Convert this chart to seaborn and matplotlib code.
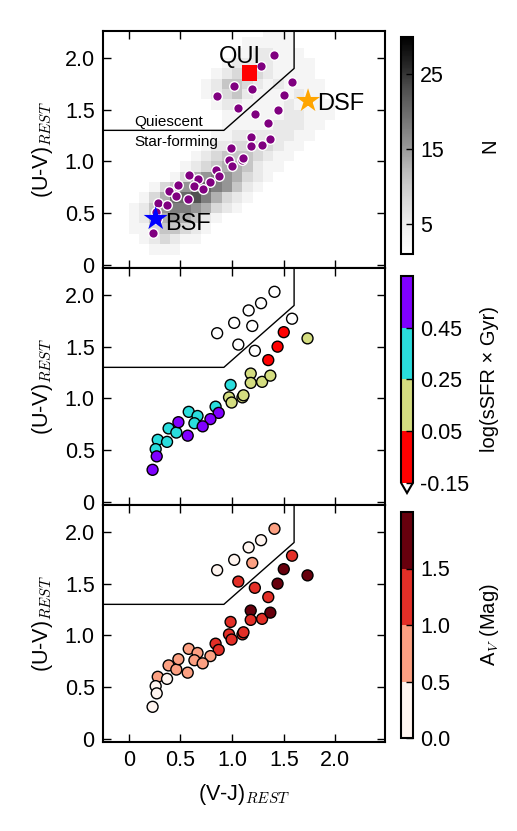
import numpy as np
import pandas as pd
import matplotlib
matplotlib.use("Agg")
import matplotlib.pyplot as plt
import matplotlib.colors as mcolors
import matplotlib.cm as cm
import seaborn as sns

# rest-frame colours of the galaxies
vj = [1.41, 1.28, 1.16, 1.02, 1.195, 0.855, 1.06, 1.22, 1.58,
      1.50, 1.44, 1.35,
      1.73, 1.18, 1.18, 1.29, 1.37, 0.97, 0.995, 1.10, 1.11,
      0.985, 0.84, 0.58, 0.665, 0.635, 0.385, 0.46, 0.28, 0.37, 0.26,
      0.87, 0.79, 0.715, 0.48, 0.57, 0.27, 0.23]
uv = [2.03, 1.92, 1.85, 1.73, 1.70, 1.63, 1.52, 1.46, 1.77,
      1.64, 1.50, 1.37,
      1.58, 1.24, 1.15, 1.16, 1.22, 1.01, 0.96, 1.01, 1.03,
      1.13, 0.92, 0.87, 0.83, 0.76, 0.71, 0.67, 0.60, 0.58, 0.51,
      0.86, 0.80, 0.73, 0.77, 0.64, 0.44, 0.31]
ssfr = [-0.42, -0.55, -0.38, -0.61, -0.33, -0.70, -0.29, -0.24, -0.35,
        -0.02, -0.08, -0.11,
        0.12, 0.09, 0.17, 0.14, 0.07, 0.21, 0.19, 0.11, 0.16,
        0.31, 0.28, 0.36, 0.33, 0.41, 0.38, 0.27, 0.35, 0.43, 0.30,
        0.52, 0.48, 0.57, 0.50, 0.61, 0.55, 0.63]
av = [0.7, 0.3, 0.4, 0.2, 0.8, 0.3, 1.2, 1.1, 1.3,
      1.7, 1.6, 1.2,
      1.8, 1.6, 1.2, 1.3, 1.7, 1.1, 1.2, 1.3, 1.2,
      1.1, 1.2, 0.8, 0.7, 0.6, 0.8, 0.7, 0.6, 0.4, 0.3,
      1.1, 0.9, 0.7, 0.6, 0.8, 0.2, 0.1]

# UVJ selection box
box_vj = [-0.3, 0.92, 1.6, 1.6]
box_uv = [1.3, 1.3, 1.898, 2.4]

# stacked spectra
stack_names = ["QUI", "BSF", "DSF"]
stack_vj = [1.168, 0.26, 1.735]
stack_uv = [1.852, 0.445, 1.585]
stack_label_vj = [0.87, 0.35, 1.825]
stack_label_uv = [1.95, 0.34, 1.50]

# parent sample density, 0.1 mag bins (digit x 2.5 = N), rows from top (U-V=2.25) down
dens_vj = [-0.05 + 0.1 * i for i in range(21)]
dens_uv = [2.25 - 0.1 * j for j in range(22)]
dens_rows = [
    "000000000000001110000",
    "000000000000111110000",
    "000000000001122111000",
    "000000000012222111100",
    "000000000123332111100",
    "000000001244321211110",
    "000000001234211112110",
    "000000000122111121111",
    "000000000011111122111",
    "000000000011111222110",
    "000000000112222221100",
    "000000001223333211000",
    "000000012344432110000",
    "000000123455421100000",
    "000001356765321000000",
    "000134678764210000000",
    "001358897532100000000",
    "012467765321000000000",
    "012456542100000000000",
    "011344321000000000000",
    "001232110000000000000",
    "000111000000000000000",
]

ssfr_bounds = [-0.15, 0.05, 0.25, 0.45, 0.65]
av_bounds = [0.0, 0.5, 1.0, 1.5, 2.0]

plt.rcParams["font.family"] = ["Liberation Sans", "DejaVu Sans"]
plt.rcParams["mathtext.fontset"] = "cm"
plt.rcParams["xtick.direction"] = "in"
plt.rcParams["ytick.direction"] = "in"
plt.rcParams["xtick.top"] = True
plt.rcParams["ytick.right"] = True
plt.rcParams["axes.linewidth"] = 1.5
plt.rcParams["xtick.major.size"] = 6
plt.rcParams["ytick.major.size"] = 6
plt.rcParams["xtick.major.width"] = 1
plt.rcParams["ytick.major.width"] = 1
plt.rcParams["font.size"] = 13

FS = 15.5

W, H = 517, 831
fig = plt.figure(figsize=(W / 100, H / 100), dpi=100)


def px_rect(x0, y0, x1, y1):
    return [x0 / W, 1 - y1 / H, (x1 - x0) / W, (y1 - y0) / H]


axes = [fig.add_axes(px_rect(103, 31, 385, 268)),
        fig.add_axes(px_rect(103, 268, 385, 505)),
        fig.add_axes(px_rect(103, 505, 385, 742))]

# density background
dx, dy, dw = [], [], []
for j, row in enumerate(dens_rows):
    for i, ch in enumerate(row):
        if ch != "0":
            dx.append(dens_vj[i])
            dy.append(dens_uv[j])
            dw.append(2.5 * int(ch))
dens = pd.DataFrame({"vj": dx, "uv": dy, "n": dw})
xedges = np.arange(-0.1, 2.05, 0.1)
yedges = np.arange(0.1, 2.35, 0.1)
sns.histplot(data=dens, x="vj", y="uv", weights="n", bins=[xedges, yedges],
             cmap="Greys", vmin=0, vmax=30, ax=axes[0])

gal = pd.DataFrame({"vj": vj, "uv": uv, "ssfr": ssfr, "av": av})

sns.scatterplot(data=gal, x="vj", y="uv", color="purple", edgecolor="white",
                s=48, linewidth=1, ax=axes[0], zorder=3)
markers = ["s", "*", "*"]
mcols = ["red", "blue", "orange"]
msizes = [130, 330, 330]
for k in range(3):
    axes[0].scatter(stack_vj[k], stack_uv[k], marker=markers[k], c=mcols[k],
                    s=msizes[k], edgecolors="none", zorder=4)
    axes[0].text(stack_label_vj[k], stack_label_uv[k], stack_names[k],
                 fontsize=17, ha="left", va="baseline", zorder=5)
axes[0].text(0.05, 1.34, "Quiescent", fontsize=11, va="baseline")
axes[0].text(0.05, 1.15, "Star-forming", fontsize=11, va="baseline")

# sSFR panel
rainbow = plt.get_cmap("rainbow")
ssfr_cmap = mcolors.ListedColormap([rainbow(1.0), rainbow(2 / 3), rainbow(1 / 3), rainbow(0.0)])
ssfr_cmap.set_under("white")
ssfr_norm = mcolors.BoundaryNorm(ssfr_bounds, ssfr_cmap.N)
sns.scatterplot(data=gal, x="vj", y="uv", hue="ssfr", palette=ssfr_cmap, hue_norm=ssfr_norm,
                edgecolor="black", s=62, linewidth=1, legend=False, ax=axes[1], zorder=3)

# A_V panel
reds = plt.get_cmap("Reds")
av_cmap = mcolors.ListedColormap([reds(0.0), reds(1 / 3), reds(2 / 3), reds(1.0)])
av_norm = mcolors.BoundaryNorm(av_bounds, av_cmap.N)
sns.scatterplot(data=gal, x="vj", y="uv", hue="av", palette=av_cmap, hue_norm=av_norm,
                edgecolor="black", s=62, linewidth=1, legend=False, ax=axes[2], zorder=3)

ticks = [0, 0.5, 1.0, 1.5, 2.0]
ticklabels = ["0", "0.5", "1.0", "1.5", "2.0"]
for i, ax in enumerate(axes):
    ax.plot(box_vj, box_uv, color="black", lw=1, zorder=2)
    ax.set_xlim(-0.25, 2.48)
    ax.set_ylim(-0.03, 2.26)
    ax.set_xticks(ticks)
    ax.set_yticks(ticks)
    ax.set_yticklabels(ticklabels, fontsize=FS)
    if i < 2:
        ax.set_xticklabels([])
        ax.set_xlabel("")
    else:
        ax.set_xticklabels(ticklabels, fontsize=FS)
        ax.set_xlabel("(V-J)$_{REST}$", fontsize=FS, va="center")
        ax.xaxis.set_label_coords(0.5, -0.22)
    ax.set_ylabel("(U-V)$_{REST}$", fontsize=FS, va="center")
    ax.yaxis.set_label_coords(-0.216, 0.5)
    ax.tick_params(pad=6)


def add_cbar(rect, cmap, norm, cticks, clabels, label, extend="neither"):
    cax = fig.add_axes(rect)
    sm = cm.ScalarMappable(norm=norm, cmap=cmap)
    cb = fig.colorbar(sm, cax=cax, ticks=cticks, extend=extend)
    cb.ax.set_yticklabels(clabels, fontsize=FS)
    cb.outline.set_linewidth(1.5)
    cb.ax.tick_params(direction="in", length=5, width=1, pad=5, right=True, left=False)
    cax.set_ylabel(label, fontsize=FS - 1, rotation=90, va="center", ha="center")
    cax.yaxis.set_label_coords(7.4, 0.5)
    return cb


add_cbar(px_rect(401, 37, 413, 254), plt.get_cmap("Greys"), mcolors.Normalize(1, 30),
         [5, 15, 25], ["5", "15", "25"], "N")
add_cbar(px_rect(401, 276, 413, 493), ssfr_cmap, ssfr_norm,
         ssfr_bounds[:4], ["-0.15", "0.05", "0.25", "0.45"], "log(sSFR × Gyr)", extend="min")
add_cbar(px_rect(401, 512, 413, 738), av_cmap, av_norm,
         av_bounds[:4], ["0.0", "0.5", "1.0", "1.5"], "A$_V$ (Mag)")

fig.savefig("out.png", dpi=100)
